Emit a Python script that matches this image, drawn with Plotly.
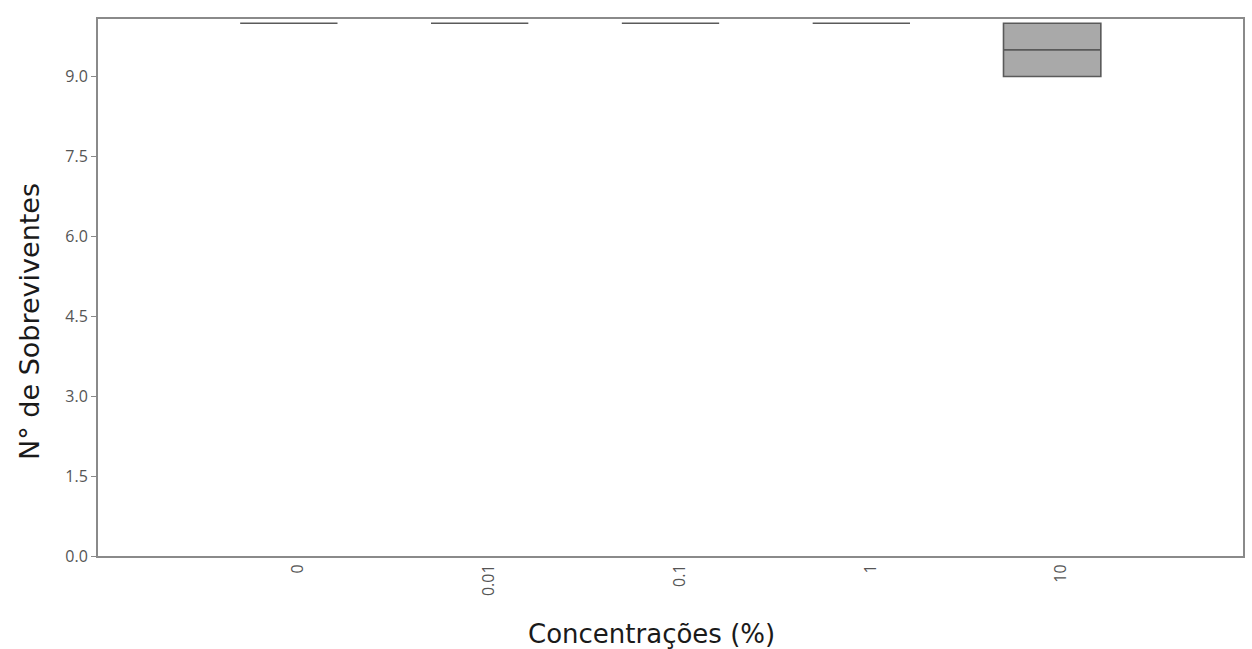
import plotly.graph_objects as go

categories = ["0", "0.01", "0.1", "1", "10"]
q1 = [10, 10, 10, 10, 9]
median = [10, 10, 10, 10, 9.5]
q3 = [10, 10, 10, 10, 10]
lowerfence = [10, 10, 10, 10, 9]
upperfence = [10, 10, 10, 10, 10]
y_ticks = [0, 1.5, 3.0, 4.5, 6.0, 7.5, 9.0]

fig = go.Figure()
fig.add_trace(go.Box(
    x=categories, q1=q1, median=median, q3=q3,
    lowerfence=lowerfence, upperfence=upperfence,
    width=0.51, whiskerwidth=0.41,
    fillcolor="#a9a9a9",
    line=dict(color="#5a5a5a", width=1.6),
    showlegend=False, hoverinfo="skip",
))

axis_color = "#8a8a8a"
title_font = dict(size=26, color="#1a1a1a", family="DejaVu Sans")
fig.update_layout(
    width=1252, height=649,
    margin=dict(l=98, r=9, t=19, b=93),
    paper_bgcolor="white", plot_bgcolor="white",
    font=dict(family="Open Sans", color="#555555", size=14),
    xaxis=dict(
        type="category", range=[-1.0, 5.0],
        showline=True, linecolor=axis_color, linewidth=2, mirror=True,
        showgrid=False, zeroline=False, ticks="",
        tickangle=-90, tickfont=dict(size=16, color="#555555"),
        ticklabelshift=9,
        automargin=False,
    ),
    yaxis=dict(
        range=[0, 10.08], tickvals=y_ticks, tickformat=".1f",
        showline=True, linecolor=axis_color, linewidth=2, mirror=True,
        showgrid=False, zeroline=False,
        ticks="outside", ticklen=5, tickcolor=axis_color, tickwidth=1,
        tickfont=dict(size=16, color="#555555"),
        automargin=False,
    ),
    annotations=[
        dict(text="Concentrações (%)", xref="paper", yref="paper",
             x=0.483, y=-0.1454, xanchor="center", yanchor="middle",
             showarrow=False, font=title_font),
        dict(text="N° de Sobreviventes", xref="paper", yref="paper",
             x=-0.0603, y=0.4376, xanchor="center", yanchor="middle", textangle=-90,
             showarrow=False, font=dict(size=27, color="#1a1a1a", family="DejaVu Sans")),
    ],
)

fig.write_html("out.html", config={"displayModeBar": False})

with open("out.html", "r", encoding="utf-8") as f:
    html = f.read()
html = html.replace("<body>", '<body style="margin:0;overflow:hidden">', 1)
with open("out.html", "w", encoding="utf-8") as f:
    f.write(html)
